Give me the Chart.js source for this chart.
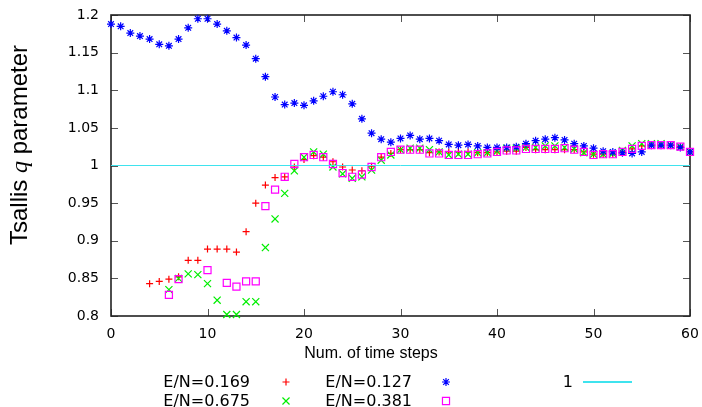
<!DOCTYPE html>
<html>
<head>
<meta charset="utf-8">
<script src="https://cdn.jsdelivr.net/npm/chart.js@4.4.0/dist/chart.umd.min.js"></script>
<style>
    html, body { margin: 0; padding: 0; background: #fff; }
    #wrap { width: 702px; height: 407px; }
</style>
</head>
<body>
<div id="wrap"><canvas id="qChart" width="702" height="407"></canvas></div>
<script>
// Time steps (x categories)
const timeSteps = Array.from({ length: 61 }, (_, i) => i);

// Tick values
const xTicks = [0, 10, 20, 30, 40, 50, 60];
const yTicks = [0.8, 0.85, 0.9, 0.95, 1, 1.05, 1.1, 1.15, 1.2];

// Series labels
const seriesLabels = ['E/N=0.169', 'E/N=0.675', 'E/N=0.127', 'E/N=0.381', '1'];

// q values per time step (null = no point)
const qEn169 = [null, null, null, null,
    0.843, 0.846, 0.849, 0.852, 0.874, 0.874, 0.889, 0.889, 0.889, 0.885,
    0.912, 0.950, 0.974, 0.984, 0.985, 0.998, 1.008, 1.013, 1.011, 1.005,
    0.998, 0.994, 0.993, 0.999, 1.011, 1.016, 1.021, 1.021, 1.021, 1.017,
    1.018, 1.018, 1.018, 1.018, 1.017, 1.017, 1.018, 1.019, 1.019, 1.024,
    1.021, 1.021, 1.021, 1.021, 1.021, 1.018, 1.015, 1.015, 1.015, 1.018,
    1.022, 1.026, 1.027, 1.027, 1.027, 1.025, 1.018];
const qEn675 = [null, null, null, null, null, null,
    0.835, 0.850, 0.856, 0.855, 0.843, 0.821, 0.802, 0.802, 0.819, 0.819,
    0.891, 0.929, 0.963, 0.993, 1.011, 1.018, 1.015, 0.998, 0.989, 0.983,
    0.985, 0.994, 1.007, 1.014, 1.021, 1.023, 1.023, 1.021, 1.018, 1.014,
    1.015, 1.015, 1.017, 1.017, 1.019, 1.023, 1.023, 1.024, 1.024, 1.026,
    1.026, 1.024, 1.022, 1.017, 1.015, 1.015, 1.016, 1.020, 1.026, 1.029,
    1.029, 1.029, 1.027, 1.025, 1.018];
const qEn127 = [
    1.188, 1.185, 1.176, 1.172, 1.168, 1.161, 1.159, 1.168, 1.183, 1.195,
    1.195, 1.188, 1.179, 1.170, 1.160, 1.142, 1.118, 1.091, 1.081, 1.083,
    1.080, 1.086, 1.092, 1.098, 1.094, 1.082, 1.062, 1.043, 1.035, 1.031,
    1.036, 1.040, 1.035, 1.036, 1.033, 1.028, 1.027, 1.028, 1.026, 1.024,
    1.024, 1.024, 1.025, 1.029, 1.033, 1.035, 1.037, 1.034, 1.029, 1.026,
    1.023, 1.019, 1.018, 1.017, 1.016, 1.018, 1.027, 1.027, 1.027, 1.024,
    1.018];
const qEn381 = [null, null, null, null, null, null,
    0.828, 0.849, null, null, 0.861, null, 0.844, 0.839, 0.846, 0.846,
    0.946, 0.968, 0.985, 1.002, 1.011, 1.014, 1.011, 1.002, 0.990, 0.985,
    0.988, 0.998, 1.011, 1.018, 1.021, 1.021, 1.021, 1.016, 1.016, 1.014,
    1.014, 1.014, 1.015, 1.016, 1.018, 1.020, 1.020, 1.022, 1.022, 1.022,
    1.022, 1.023, 1.021, 1.018, 1.014, 1.015, 1.015, 1.018, 1.022, 1.026,
    1.027, 1.027, 1.027, 1.025, 1.018];

// Reference line y = 1
const refX = [0, 60];
const refY = [1, 1];

const colors = {
    red: '#ff0000',
    green: '#00ee00',
    blue: '#0000ff',
    magenta: '#ff00ff',
    cyan: '#3fe3ee',
    axis: '#222222',
    tick: '#555555',
    text: '#000000'
};

function toPoints(xs, ys) {
    return xs.map((x, i) => ({ x: x, y: ys[i] })).filter(p => p.y !== null);
}

function markerSet(label, values, color, style, radius, order) {
    return {
        label: label,
        data: toPoints(timeSteps, values),
        pointStyle: style,
        pointRadius: radius,
        pointBorderColor: color,
        pointBackgroundColor: 'rgba(0,0,0,0)',
        pointBorderWidth: 1.2,
        borderColor: color,
        showLine: false,
        clip: false,
        order: order
    };
}

// Frame and inward ticks, drawn under the points
const framePlugin = {
    id: 'frame',
    beforeDatasetsDraw(chart) {
        const { ctx, chartArea: a, scales: { x, y } } = chart;
        ctx.save();
        ctx.strokeStyle = colors.tick;
        ctx.lineWidth = 1;
        ctx.beginPath();
        x.ticks.forEach(t => {
            const px = Math.round(x.getPixelForValue(t.value)) + 0.5;
            ctx.moveTo(px, a.bottom); ctx.lineTo(px, a.bottom - 7);
            ctx.moveTo(px, a.top); ctx.lineTo(px, a.top + 7);
        });
        y.ticks.forEach(t => {
            const py = Math.round(y.getPixelForValue(t.value)) + 0.5;
            ctx.moveTo(a.left, py); ctx.lineTo(a.left + 7, py);
            ctx.moveTo(a.right, py); ctx.lineTo(a.right - 7, py);
        });
        ctx.stroke();
        ctx.strokeStyle = colors.axis;
        ctx.lineWidth = 1.6;
        ctx.strokeRect(a.left, a.top, a.right - a.left, a.bottom - a.top);
        ctx.restore();
    }
};

// Axis titles and gnuplot-like key
const labelsPlugin = {
    id: 'labels',
    afterDraw(chart) {
        const ctx = chart.ctx;
        ctx.save();
        ctx.fillStyle = colors.text;

        // x title
        ctx.font = '16px "Liberation Sans", Arial, sans-serif';
        ctx.textAlign = 'center';
        ctx.textBaseline = 'middle';
        ctx.fillText('Num. of time steps', 371, 354);

        // y title with italic q
        const partA = 'Tsallis ', partQ = 'q', partB = ' parameter';
        const sansFont = '24px "Liberation Sans", Arial, sans-serif';
        const italFont = 'italic 24px "Liberation Serif", serif';
        ctx.font = sansFont;
        const wA = ctx.measureText(partA).width, wB = ctx.measureText(partB).width;
        ctx.font = italFont;
        const wQ = ctx.measureText(partQ).width;
        const total = wA + wQ + wB;
        ctx.translate(27, 145);
        ctx.rotate(-Math.PI / 2);
        ctx.textAlign = 'left';
        ctx.textBaseline = 'alphabetic';
        let cx = -total / 2;
        ctx.font = sansFont; ctx.fillText(partA, cx, 0); cx += wA;
        ctx.font = italFont; ctx.fillText(partQ, cx, 0); cx += wQ;
        ctx.font = sansFont; ctx.fillText(partB, cx, 0);
        ctx.setTransform(1, 0, 0, 1, 0, 0);

        // key: two rows, filled column by column
        const textRight = [250, 412, 573];
        const sampleX = [286, 446, 607];
        const rowY = [382, 401];
        ctx.font = '16px "DejaVu Sans", sans-serif';
        ctx.textAlign = 'right';
        ctx.textBaseline = 'middle';
        chart.data.datasets.forEach((ds, i) => {
            const col = Math.floor(i / 2), row = i % 2;
            const yy = rowY[row];
            ctx.fillStyle = colors.text;
            ctx.fillText(ds.label, textRight[col], yy + 1);
            if (ds.showLine) {
                ctx.strokeStyle = ds.borderColor;
                ctx.lineWidth = 2;
                ctx.beginPath();
                ctx.moveTo(sampleX[col] - 24, yy);
                ctx.lineTo(sampleX[col] + 25, yy);
                ctx.stroke();
            } else {
                ctx.strokeStyle = ds.pointBorderColor;
                ctx.fillStyle = 'rgba(0,0,0,0)';
                ctx.lineWidth = ds.pointBorderWidth;
                Chart.helpers.drawPoint(ctx, {
                    pointStyle: ds.pointStyle,
                    radius: ds.pointRadius,
                    rotation: 0,
                    borderWidth: ds.pointBorderWidth
                }, sampleX[col], yy);
            }
        });
        ctx.restore();
    }
};

const chart = new Chart(document.getElementById('qChart').getContext('2d'), {
    type: 'scatter',
    data: {
        datasets: [
            markerSet(seriesLabels[0], qEn169, colors.red, 'cross', 3.5, 5),
            markerSet(seriesLabels[1], qEn675, colors.green, 'crossRot', 5, 4),
            markerSet(seriesLabels[2], qEn127, colors.blue, 'star', 4, 3),
            markerSet(seriesLabels[3], qEn381, colors.magenta, 'rect', 5, 2),
            {
                label: seriesLabels[4],
                data: toPoints(refX, refY),
                showLine: true,
                borderColor: colors.cyan,
                borderWidth: 1,
                pointRadius: 0,
                order: 1
            }
        ]
    },
    options: {
        responsive: false,
        animation: false,
        devicePixelRatio: 1,
        layout: { padding: { top: 15, right: 12, left: 0, bottom: 0 } },
        plugins: {
            legend: { display: false },
            tooltip: { enabled: false }
        },
        scales: {
            x: {
                type: 'linear',
                min: 0,
                max: 60,
                afterBuildTicks: s => { s.ticks = xTicks.map(v => ({ value: v })); },
                afterFit: s => { s.height = 91; s.paddingLeft = 0; s.paddingRight = 0; },
                grid: { display: false, drawTicks: false },
                border: { display: false },
                ticks: {
                    font: { family: 'DejaVu Sans', size: 14 },
                    color: colors.text,
                    padding: 10,
                    maxRotation: 0,
                    callback: v => String(v)
                }
            },
            y: {
                min: 0.8,
                max: 1.2,
                afterBuildTicks: s => { s.ticks = yTicks.map(v => ({ value: v })); },
                afterFit: s => { s.width = 111; s.paddingTop = 0; s.paddingBottom = 0; },
                grid: { display: false, drawTicks: false },
                border: { display: false },
                ticks: {
                    font: { family: 'DejaVu Sans', size: 14 },
                    color: colors.text,
                    padding: 12,
                    callback: v => String(v)
                }
            }
        }
    },
    plugins: [framePlugin, labelsPlugin]
});
</script>
</body>
</html>
